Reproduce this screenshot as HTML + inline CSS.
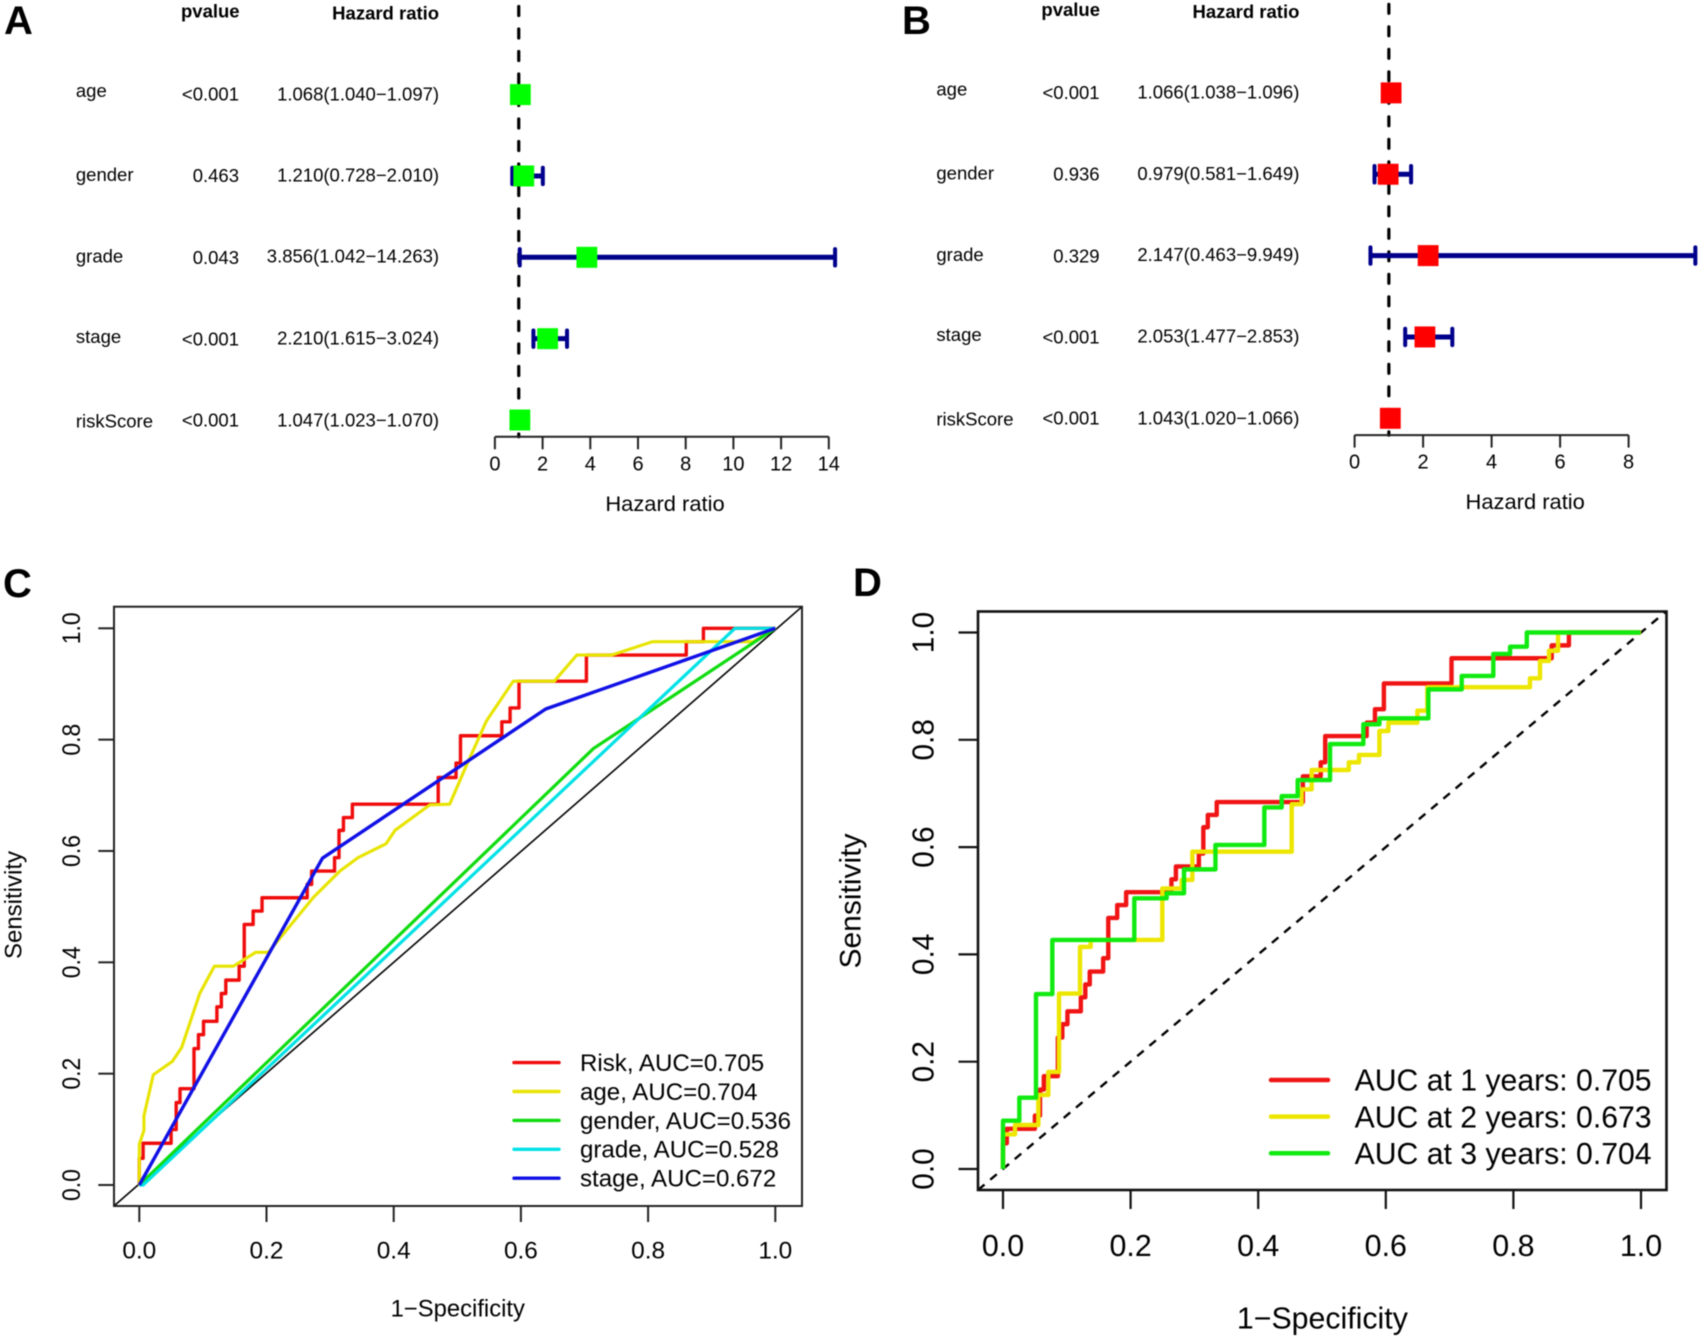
<!DOCTYPE html>
<html lang="en">
<head>
<meta charset="utf-8">
<title>Forest plots and ROC curves</title>
<style>
html,body{margin:0;padding:0;background:#fff;width:1699px;height:1339px;overflow:hidden}
svg{display:block;position:absolute;left:0;top:0;filter:blur(0.4px)}
text{font-family:"Liberation Sans",Arial,sans-serif;fill:#000}
</style>
</head>
<body>
<svg id="figure" xmlns="http://www.w3.org/2000/svg" width="1699" height="1339" viewBox="0 0 1699 1339">
  <rect x="0" y="0" width="1699" height="1339" fill="#fff"/>
  <text x="4" y="34" font-size="40" font-weight="bold">A</text>
  <text x="902" y="34" font-size="40" font-weight="bold">B</text>
  <text x="3" y="597" font-size="40" font-weight="bold">C</text>
  <text x="853" y="596" font-size="40" font-weight="bold">D</text>

  <text x="239.6" y="17.6" font-size="18.5" font-weight="bold" text-anchor="end">pvalue</text>
  <text x="439.1" y="19.6" font-size="18.5" font-weight="bold" text-anchor="end">Hazard ratio</text>
  <text x="665" y="510.8" font-size="21" text-anchor="middle" textLength="119.3" lengthAdjust="spacingAndGlyphs">Hazard ratio</text>

  <text x="1100" y="15.9" font-size="18.5" font-weight="bold" text-anchor="end">pvalue</text>
  <text x="1299.4" y="17.9" font-size="18.5" font-weight="bold" text-anchor="end">Hazard ratio</text>
  <text x="1525.2" y="509" font-size="21" text-anchor="middle" textLength="119.3" lengthAdjust="spacingAndGlyphs">Hazard ratio</text>

  <text x="457.8" y="1316.7" font-size="23.8" text-anchor="middle">1−Specificity</text>
  <text transform="translate(21.7,905) rotate(-90)" font-size="24" text-anchor="middle">Sensitivity</text>
  <text x="1322.4" y="1328.3" font-size="30.3" text-anchor="middle">1−Specificity</text>
  <text transform="translate(860.7,901) rotate(-90)" font-size="30" text-anchor="middle">Sensitivity</text>
  <g id="layer"></g>
</svg>

<script>
// ---------- Forest plot data ----------
const forestRows = ['age', 'gender', 'grade', 'stage', 'riskScore'];

const hrA = [1.068, 1.210, 3.856, 2.210, 1.047];
const lowA = [1.040, 0.728, 1.042, 1.615, 1.023];
const highA = [1.097, 2.010, 14.263, 3.024, 1.070];
const pvalA = ['<0.001', '0.463', '0.043', '<0.001', '<0.001'];
const hrTextA = ['1.068(1.040−1.097)', '1.210(0.728−2.010)', '3.856(1.042−14.263)', '2.210(1.615−3.024)', '1.047(1.023−1.070)'];
const ticksA = [0, 2, 4, 6, 8, 10, 12, 14];

const hrB = [1.066, 0.979, 2.147, 2.053, 1.043];
const lowB = [1.038, 0.581, 0.463, 1.477, 1.020];
const highB = [1.096, 1.649, 9.949, 2.853, 1.066];
const pvalB = ['<0.001', '0.936', '0.329', '<0.001', '<0.001'];
const hrTextB = ['1.066(1.038−1.096)', '0.979(0.581−1.649)', '2.147(0.463−9.949)', '2.053(1.477−2.853)', '1.043(1.020−1.066)'];
const ticksB = [0, 2, 4, 6, 8];

// ---------- ROC panel C data ----------
const rocTicks = [0, 0.2, 0.4, 0.6, 0.8, 1];
const rocTickLabels = ['0.0', '0.2', '0.4', '0.6', '0.8', '1.0'];

const riskFpr = [0, .006, .05, .058, .064, .086, .093, .101, .122, .129, .136, .157, .165, .179, .193, .264, .271, .307, .314, .321, .335, .47, .498, .505, .57, .583, .597, .703, .86, .887, 1];
const riskTpr = [.048, .075, .0995, .148, .173, .245, .27, .294, .32, .344, .368, .393, .468, .492, .516, .54, .564, .588, .637, .66, .684, .732, .758, .807, .832, .857, .905, .952, .976, 1, 1];

const ageFpr = [0, 0, .0073, .0073, .022, .052, .0666, .095, .118, .148, .183, .203, .213, .274, .3155, .344, .388, .402, .457, .488, .516, .546, .588, .6525, .688, .743, .807, .965, 1];
const ageTpr = [0, .073, .098, .124, .198, .222, .247, .344, .393, .393, .418, .418, .432, .517, .564, .588, .613, .637, .683, .684, .758, .834, .905, .905, .952, .952, .976, .976, 1];

const genderFpr = [0, .714, 1];
const genderTpr = [0, .784, 1];

const gradeFpr = [0, .006, .9366, 1];
const gradeTpr = [0, 0, 1, 1];

const stageFpr = [0, .288, .639, 1];
const stageTpr = [0, .587, .855, 1];

const legendC = ['Risk, AUC=0.705', 'age, AUC=0.704', 'gender, AUC=0.536', 'grade, AUC=0.528', 'stage, AUC=0.672'];

// ---------- ROC panel D data ----------
const year1Fpr = [0, .006, .05, .058, .064, .086, .093, .101, .122, .129, .136, .157, .165, .179, .193, .264, .271, .307, .314, .321, .335, .47, .498, .505, .57, .583, .597, .703, .86, .887, 1];
const year1Tpr = [.048, .075, .0995, .148, .173, .245, .27, .294, .32, .344, .368, .393, .468, .492, .516, .54, .564, .588, .637, .66, .684, .732, .758, .807, .832, .857, .905, .952, .976, 1, 1];

const year2Fpr = [0, .0188, .0554, .071, .0878, .1207, .1374, .2497, .28, .2968, .4525, .468, .4838, .542, .558, .59, .604, .6495, .665, .826, .8417, .8558, .87, 1];
const year2Tpr = [.0646, .082, .138, .181, .327, .414, .427, .523, .5387, .5915, .68, .7077, .7437, .758, .7717, .8164, .832, .8543, .898, .9146, .947, .966, 1, 1];

const year3Fpr = [0, .0256, .0517, .0773, .2058, .2565, .2837, .333, .4096, .4368, .4619, .5126, .5648, .59, .6667, .719, .7685, .7948, .821, .9991];
const year3Tpr = [.09, .133, .326, .427, .5045, .514, .5585, .604, .674, .695, .725, .792, .829, .84, .894, .919, .96, .9736, 1, 1];

const legendD = ['AUC at 1 years: 0.705', 'AUC at 2 years: 0.673', 'AUC at 3 years: 0.704'];

// ---------- Helpers ----------
const NS = 'http://www.w3.org/2000/svg';
const layer = document.getElementById('layer');
function mk(tag, attrs, txt) {
  const el = document.createElementNS(NS, tag);
  for (const k in attrs) el.setAttribute(k, attrs[k]);
  if (txt !== undefined) el.textContent = txt;
  layer.appendChild(el);
  return el;
}

// ---------- Forest plots ----------
const labelNudge = [2.4, 5, 5.2, 4.1, 7.4];
const pNudge = [6.1, 6.1, 6.8, 6.7, 6.4];
const hrNudge = [5.7, 5.7, 5.4, 5.7, 6.4];

function forest(id, o) {
  const sx = v => o.x0 + o.unit * v;
  const sy = i => o.y0 + 81.35 * i;
  const axisY = o.axisY;

  const ref = mk('line', {x1: sx(1), x2: sx(1), y1: o.dashStart, y2: axisY, stroke: '#000', 'stroke-width': 3.2, 'stroke-linecap': 'round', 'stroke-dasharray': '9 13.5'});
  
  

  forestRows.forEach((name, i) => {
    const y = sy(i);
    const lab = mk('text', {x: o.labelX, y: y + labelNudge[i], 'font-size': 18.5}, name);
    
    

    const p = mk('text', {x: o.pX, y: y + pNudge[i], 'font-size': 18.5, 'text-anchor': 'end'}, o.pval[i]);
    
    

    const t = mk('text', {x: o.hrX, y: y + hrNudge[i], 'font-size': 18.5, 'text-anchor': 'end'}, o.hrText[i]);
    
    

    const ci = mk('line', {x1: sx(o.low[i]), x2: sx(o.high[i]), y1: y, y2: y, stroke: '#00008b', 'stroke-width': 5});
    
    

    const capL = mk('line', {x1: sx(o.low[i]), x2: sx(o.low[i]), y1: y - 8.2, y2: y + 8.2, stroke: '#00008b', 'stroke-width': 4, 'stroke-linecap': 'round'});
    
    

    const capH = mk('line', {x1: sx(o.high[i]), x2: sx(o.high[i]), y1: y - 8.2, y2: y + 8.2, stroke: '#00008b', 'stroke-width': 4, 'stroke-linecap': 'round'});
    
    

    const box = mk('rect', {x: sx(o.hr[i]) - 10.4, y: y - 10.5, width: 20.8, height: 21, fill: o.boxColor});
    
    
  });

  const ax = mk('line', {x1: sx(o.ticks[0]), x2: sx(o.ticks[o.ticks.length - 1]), y1: axisY, y2: axisY, stroke: '#222', 'stroke-width': 2});
  
  

  o.ticks.forEach(v => {
    const tk = mk('line', {x1: sx(v), x2: sx(v), y1: axisY, y2: axisY + 12.5, stroke: '#222', 'stroke-width': 2});
    
    
    const tl = mk('text', {x: sx(v), y: axisY + 33.5, 'font-size': 20, 'text-anchor': 'middle'}, String(v));
    
    
  });
}

forest('a', {x0: 494.9, unit: 23.85, y0: 94.6, axisY: 436.8, dashStart: -16, labelX: 75.9, pX: 239, hrX: 439.1,
  hr: hrA, low: lowA, high: highA, pval: pvalA, hrText: hrTextA, ticks: ticksA, boxColor: '#00ff00'});
forest('b', {x0: 1354.6, unit: 34.25, y0: 92.9, axisY: 435.1, dashStart: -18.2, labelX: 936.4, pX: 1099.6, hrX: 1299.4,
  hr: hrB, low: lowB, high: highB, pval: pvalB, hrText: hrTextB, ticks: ticksB, boxColor: '#ff0000'});

// ---------- ROC helpers ----------
function stepPath(xs, ys, sx, sy) {
  let d = 'M' + sx(0) + ' ' + sy(0);
  xs.forEach((x, i) => { d += 'H' + sx(x) + 'V' + sy(ys[i]); });
  return d;
}
function linePath(xs, ys, sx, sy) {
  return xs.map((x, i) => (i ? 'L' : 'M') + sx(x) + ' ' + sy(ys[i])).join('');
}

// ---------- Panel C ----------
const cx = v => 139.3 + 636 * v;
const cy = v => 1185 - 556.7 * v;

const cDiag = mk('line', {x1: 114, y1: 1206, x2: 802, y2: 606.7, stroke: '#000', 'stroke-width': 1.6});



const cRisk = mk('path', {d: stepPath(riskFpr, riskTpr, cx, cy), fill: 'none', stroke: '#f00c0c', 'stroke-width': 3.4, 'stroke-linejoin': 'round'});



const cAge = mk('path', {d: linePath(ageFpr, ageTpr, cx, cy), fill: 'none', stroke: '#e8e400', 'stroke-width': 3.1, 'stroke-linejoin': 'round'});



const cGender = mk('path', {d: linePath(genderFpr, genderTpr, cx, cy), fill: 'none', stroke: '#10dc10', 'stroke-width': 3.2, 'stroke-linejoin': 'round'});



const cGrade = mk('path', {d: linePath(gradeFpr, gradeTpr, cx, cy), fill: 'none', stroke: '#00e2e6', 'stroke-width': 3.2, 'stroke-linejoin': 'round'});



const cStage = mk('path', {d: linePath(stageFpr, stageTpr, cx, cy), fill: 'none', stroke: '#1010e6', 'stroke-width': 3.4, 'stroke-linejoin': 'round'});



const cFrame = mk('rect', {x: 114, y: 606.7, width: 688, height: 599.3, fill: 'none', stroke: '#222', 'stroke-width': 2});



rocTicks.forEach((v, i) => {
  const tx = mk('line', {x1: cx(v), x2: cx(v), y1: 1206, y2: 1222, stroke: '#222', 'stroke-width': 2});
  
  
  const lx = mk('text', {x: cx(v), y: 1258.6, 'font-size': 24.4, 'text-anchor': 'middle'}, rocTickLabels[i]);
  
  
  const ty = mk('line', {x1: 98.3, x2: 114, y1: cy(v), y2: cy(v), stroke: '#222', 'stroke-width': 2});
  
  
  const ly = mk('text', {transform: 'translate(80,' + cy(v) + ') rotate(-90) scale(1,1.1)', 'font-size': 23, 'text-anchor': 'middle'}, rocTickLabels[i]);
  
  
});

const cColors = ['#f00c0c', '#e8e400', '#10dc10', '#00e2e6', '#1010e6'];
legendC.forEach((label, i) => {
  const y = 1062.6 + 28.9 * i;
  const sw = mk('line', {x1: 514, x2: 559, y1: y, y2: y, stroke: cColors[i], 'stroke-width': 3.4, 'stroke-linecap': 'round'});
  
  
  const tx = mk('text', {x: 580, y: y + 8.4, 'font-size': 24.1}, label);
  
  
});

// ---------- Panel D ----------
const dx = v => 1003 + 638 * v;
const dy = v => 1169 - 536.5 * v;

const dDiag = mk('line', {x1: 978, y1: 1190, x2: 1666, y2: 611.5, stroke: '#000', 'stroke-width': 2.4, 'stroke-dasharray': '8.5 7.5'});



const dY1 = mk('path', {d: stepPath(year1Fpr, year1Tpr, dx, dy), fill: 'none', stroke: '#f01414', 'stroke-width': 4.4, 'stroke-linejoin': 'round'});



const dY2 = mk('path', {d: stepPath(year2Fpr, year2Tpr, dx, dy), fill: 'none', stroke: '#ece600', 'stroke-width': 4.4, 'stroke-linejoin': 'round'});



const dY3 = mk('path', {d: stepPath(year3Fpr, year3Tpr, dx, dy), fill: 'none', stroke: '#10ea10', 'stroke-width': 4.4, 'stroke-linejoin': 'round'});



const dFrame = mk('rect', {x: 978, y: 611.5, width: 688.5, height: 578.5, fill: 'none', stroke: '#111', 'stroke-width': 2.6});



rocTicks.forEach((v, i) => {
  const tx = mk('line', {x1: dx(v), x2: dx(v), y1: 1190, y2: 1209, stroke: '#111', 'stroke-width': 2.2});
  
  
  const lx = mk('text', {x: dx(v), y: 1256, 'font-size': 30.4, 'text-anchor': 'middle'}, rocTickLabels[i]);
  
  
  const ty = mk('line', {x1: 958.5, x2: 978, y1: dy(v), y2: dy(v), stroke: '#111', 'stroke-width': 2.2});
  
  
  const ly = mk('text', {transform: 'translate(933.3,' + dy(v) + ') rotate(-90) scale(1,1.04)', 'font-size': 29.8, 'text-anchor': 'middle'}, rocTickLabels[i]);
  
  
});

const dColors = ['#f01414', '#ece600', '#10ea10'];
legendD.forEach((label, i) => {
  const y = 1080 + 36.65 * i;
  const sw = mk('line', {x1: 1271, x2: 1328, y1: y, y2: y, stroke: dColors[i], 'stroke-width': 4.5, 'stroke-linecap': 'round'});
  
  
  const tx = mk('text', {x: 1354.6, y: y + 10.7, 'font-size': 30.2}, label);
  
  
});
</script>
</body>
</html>
